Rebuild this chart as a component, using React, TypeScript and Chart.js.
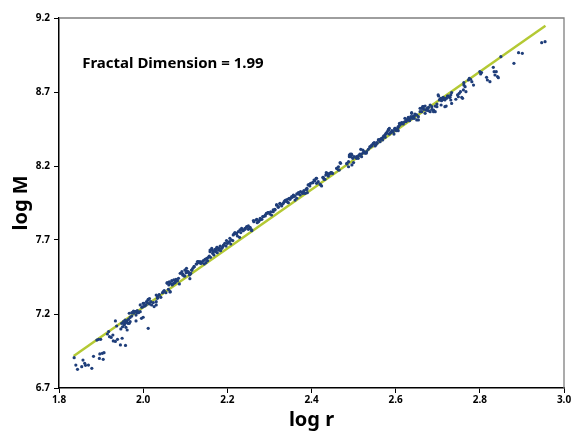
import React, { useEffect, useRef } from "react";
import { Chart, registerables } from "chart.js";

Chart.register(...registerables);

// log r values of the scatter points
const logR: number[] = [
  1.836, 1.840, 1.844, 1.854, 1.857, 1.861, 1.863, 1.870, 1.878, 1.882,
  1.890, 1.894, 1.899, 1.896, 1.897, 1.903, 1.905, 1.907, 1.915, 1.918,
  1.920, 1.924, 1.928, 1.929, 1.934, 1.934, 1.937, 1.939, 1.946, 1.958,
  1.950, 1.947, 1.951, 1.955, 1.958, 1.961, 1.964, 1.969, 1.962, 1.967,
  1.973, 1.977, 1.981, 1.986, 1.983, 2.000, 1.993, 1.997, 2.000, 2.004,
  2.008, 2.012, 2.015, 2.012, 2.031, 2.034, 2.031, 2.038, 2.048, 2.057,
  2.061, 2.064, 2.069, 2.073, 2.077, 2.081, 2.086, 2.094, 2.099, 2.103,
  2.108, 2.112, 2.116, 2.121, 2.127, 2.131, 2.111,
  2.131, 2.135, 2.139, 2.143, 2.147, 2.151, 2.155, 2.159, 2.163, 2.167,
  2.173, 2.176, 2.181, 2.184, 2.189, 2.192, 2.197, 2.200, 2.205, 2.208,
  2.213, 2.216, 2.221, 2.224, 2.229, 2.232, 2.236, 2.242, 2.246, 2.250,
  2.254, 2.258, 2.263, 2.268, 2.271, 2.276, 2.279, 2.284, 2.290, 2.294,
  2.297, 2.303, 2.309, 2.313, 2.317, 2.321, 2.325, 2.331, 2.335, 2.339,
  2.343, 2.347, 2.353, 2.357, 2.361, 2.365, 2.369, 2.374, 2.379, 2.382,
  2.387, 2.390, 2.395, 2.398, 2.403, 2.408, 2.412, 2.416,
  2.420, 2.424, 2.428, 2.432, 2.434, 2.438, 2.442, 2.446, 2.450, 2.460,
  2.464, 2.466, 2.469, 2.484, 2.488, 2.490, 2.493, 2.495, 2.498, 2.501,
  2.507, 2.511, 2.514, 2.517, 2.519, 2.523, 2.527, 2.531, 2.539, 2.543,
  2.547, 2.549, 2.553, 2.556, 2.559, 2.563, 2.567, 2.571, 2.575, 2.577,
  2.580, 2.583, 2.585, 2.588, 2.591, 2.594, 2.598, 2.601, 2.604, 2.606,
  2.610, 2.614, 2.618, 2.622, 2.625, 2.628, 2.630, 2.634, 2.638, 2.640,
  2.644, 2.646, 2.650, 2.654, 2.658, 2.662, 2.664, 2.667, 2.670, 2.672,
  2.675, 2.678, 2.682, 2.686, 2.690, 2.694, 2.698, 2.701,
  2.705, 2.709, 2.713, 2.717, 2.721, 2.725, 2.729, 2.731, 2.733, 2.708,
  2.717, 2.733, 2.743, 2.747, 2.749, 2.751, 2.754, 2.757, 2.759, 2.761,
  2.762, 2.765, 2.762, 2.767, 2.773, 2.775, 2.778, 2.781, 2.785, 2.800,
  2.802, 2.804, 2.816, 2.818, 2.824, 2.832, 2.834, 2.836, 2.839, 2.842,
  2.844, 2.850, 2.881, 2.892, 2.901, 2.947, 2.955,
  // second, closer reading of the dense part of the band
  1.949, 1.953, 1.957, 1.961, 1.965, 1.955, 1.959, 1.967, 1.969, 1.973,
  1.977, 1.981, 1.983, 1.986, 1.989, 1.993, 1.996, 2.000, 2.002, 2.007,
  2.010, 2.012, 2.015, 2.018, 2.020, 2.024, 2.026, 2.031, 2.034, 2.038,
  2.042, 2.046, 2.050, 2.054, 2.057, 2.062, 2.065, 2.068, 2.070, 2.073,
  2.076, 2.078, 2.081, 2.084, 2.064, 2.060, 2.088, 2.092, 2.094, 2.097,
  2.099, 2.102, 2.103, 2.107, 2.110, 2.113, 2.115, 2.118, 2.121, 2.126,
  2.129, 2.134, 2.137, 2.141, 2.145, 2.149, 2.153, 2.157, 2.160, 2.165,
  2.168, 2.173, 2.176,
  2.159, 2.163, 2.167, 2.171, 2.175, 2.179, 2.183, 2.187, 2.191, 2.194,
  2.198, 2.202, 2.206, 2.210, 2.214, 2.218, 2.222, 2.226, 2.230, 2.234,
  2.238, 2.242, 2.246, 2.250, 2.254, 2.258, 2.262, 2.270, 2.274, 2.278,
  2.282, 2.286, 2.290, 2.293, 2.297, 2.301, 2.305, 2.309, 2.313, 2.317,
  2.321, 2.325, 2.329, 2.333, 2.337, 2.341, 2.345, 2.349, 2.353, 2.357,
  2.361, 2.365, 2.369, 2.373, 2.377, 2.381, 2.385, 2.389, 2.392,
  2.389, 2.396, 2.403, 2.406, 2.411, 2.412, 2.422, 2.427, 2.430, 2.435,
  2.438, 2.440, 2.444, 2.448, 2.460, 2.464, 2.468, 2.484, 2.488, 2.492,
  2.496, 2.490, 2.496, 2.500, 2.507, 2.511, 2.515, 2.519, 2.522, 2.525,
  2.530, 2.535, 2.539, 2.543, 2.547, 2.551, 2.555, 2.559, 2.563, 2.567,
  2.569, 2.572, 2.575, 2.579, 2.583, 2.585, 2.588, 2.593, 2.596, 2.598,
  2.602, 2.606, 2.609,
  2.599, 2.602, 2.606, 2.610, 2.614, 2.618, 2.622, 2.626, 2.630, 2.633,
  2.636, 2.638, 2.640, 2.644, 2.646, 2.650, 2.654, 2.658, 2.662, 2.666,
  2.670, 2.674, 2.678, 2.682, 2.686, 2.690, 2.694, 2.698, 2.702, 2.704,
  2.707, 2.709, 2.713, 2.717, 2.720, 2.723, 2.728, 2.731,
];

// log M values of the scatter points (same order as logR)
const logM: number[] = [
  6.905, 6.855, 6.826, 6.844, 6.889, 6.867, 6.853, 6.855, 6.833, 6.914,
  7.024, 7.029, 7.029, 6.900, 6.930, 6.934, 6.894, 6.939, 7.065, 7.081,
  7.047, 7.042, 7.058, 7.018, 7.015, 7.153, 7.119, 7.029, 6.991, 6.988,
  7.036, 7.099, 7.114, 7.130, 7.144, 7.153, 7.137, 7.148, 7.092, 7.205,
  7.209, 7.220, 7.216, 7.209, 7.153, 7.178, 7.261, 7.245, 7.272, 7.254,
  7.283, 7.295, 7.304, 7.103, 7.328, 7.317, 7.261, 7.331, 7.351, 7.407,
  7.396, 7.349, 7.396, 7.407, 7.421, 7.425, 7.403, 7.470, 7.457, 7.491,
  7.479, 7.470, 7.497, 7.520, 7.538, 7.547, 7.439,
  7.554, 7.554, 7.547, 7.560, 7.569, 7.576, 7.583, 7.621, 7.632, 7.626,
  7.637, 7.650, 7.644, 7.628, 7.655, 7.666, 7.659, 7.677, 7.689, 7.673,
  7.696, 7.741, 7.745, 7.727, 7.718, 7.750, 7.768, 7.779, 7.790, 7.772,
  7.786, 7.763, 7.824, 7.835, 7.817, 7.831, 7.840, 7.858, 7.862, 7.880,
  7.885, 7.891, 7.903, 7.907, 7.937, 7.921, 7.948, 7.943, 7.959, 7.970,
  7.975, 7.982, 7.993, 8.004, 7.970, 8.011, 8.020, 8.027, 8.015, 8.033,
  8.042, 8.020, 8.076, 8.083, 8.087, 8.101, 8.117, 8.094,
  8.078, 8.065, 8.123, 8.110, 8.139, 8.150, 8.146, 8.155, 8.150, 8.184,
  8.195, 8.173, 8.218, 8.214, 8.195, 8.274, 8.263, 8.281, 8.252, 8.263,
  8.263, 8.252, 8.274, 8.313, 8.281, 8.290, 8.286, 8.297, 8.326, 8.335,
  8.349, 8.358, 8.342, 8.353, 8.376, 8.380, 8.387, 8.398, 8.410, 8.421,
  8.432, 8.448, 8.416, 8.425, 8.439, 8.432, 8.455, 8.443, 8.448, 8.439,
  8.477, 8.488, 8.493, 8.522, 8.500, 8.511, 8.529, 8.515, 8.556, 8.533,
  8.522, 8.545, 8.511, 8.533, 8.590, 8.567, 8.601, 8.583, 8.556, 8.578,
  8.590, 8.574, 8.567, 8.601, 8.578, 8.567, 8.601, 8.680,
  8.651, 8.657, 8.664, 8.646, 8.657, 8.673, 8.664, 8.680, 8.696, 8.612,
  8.601, 8.623, 8.651, 8.680, 8.668, 8.691, 8.702, 8.664, 8.657, 8.714,
  8.747, 8.736, 8.763, 8.702, 8.781, 8.792, 8.786, 8.770, 8.747, 8.837,
  8.822, 8.831, 8.799, 8.781, 8.770, 8.867, 8.837, 8.815, 8.837, 8.804,
  8.797, 8.939, 8.894, 8.966, 8.961, 9.033, 9.040,
  // second, closer reading of the dense part of the band
  7.137, 7.148, 7.159, 7.141, 7.164, 7.126, 7.110, 7.137, 7.177, 7.186,
  7.205, 7.216, 7.193, 7.223, 7.209, 7.216, 7.171, 7.250, 7.272, 7.261,
  7.277, 7.299, 7.268, 7.283, 7.261, 7.277, 7.250, 7.283, 7.306, 7.328,
  7.313, 7.344, 7.358, 7.344, 7.412, 7.418, 7.407, 7.425, 7.403, 7.430,
  7.412, 7.434, 7.425, 7.441, 7.351, 7.367, 7.475, 7.486, 7.464, 7.457,
  7.497, 7.479, 7.509, 7.486, 7.464, 7.475, 7.497, 7.509, 7.520, 7.538,
  7.554, 7.547, 7.542, 7.554, 7.538, 7.547, 7.560, 7.592, 7.583, 7.610,
  7.599, 7.621, 7.614,
  7.632, 7.644, 7.621, 7.637, 7.650, 7.632, 7.659, 7.644, 7.666, 7.678,
  7.696, 7.682, 7.711, 7.700, 7.734, 7.750, 7.741, 7.756, 7.768, 7.779,
  7.763, 7.772, 7.786, 7.795, 7.779, 7.768, 7.831, 7.840, 7.824, 7.846,
  7.840, 7.858, 7.869, 7.880, 7.885, 7.876, 7.869, 7.891, 7.903, 7.937,
  7.925, 7.943, 7.930, 7.948, 7.966, 7.959, 7.952, 7.975, 7.988, 7.993,
  7.997, 7.982, 8.011, 8.004, 8.020, 8.027, 8.015, 8.042, 8.072,
  8.049, 8.065, 8.087, 8.105, 8.117, 8.083, 8.072, 8.123, 8.110, 8.155,
  8.146, 8.132, 8.151, 8.155, 8.184, 8.173, 8.223, 8.218, 8.229, 8.281,
  8.274, 8.263, 8.207, 8.223, 8.252, 8.268, 8.281, 8.263, 8.308, 8.297,
  8.286, 8.313, 8.331, 8.342, 8.353, 8.335, 8.358, 8.376, 8.364, 8.387,
  8.376, 8.403, 8.394, 8.421, 8.443, 8.455, 8.425, 8.432, 8.416, 8.448,
  8.439, 8.466, 8.488,
  8.455, 8.448, 8.461, 8.477, 8.493, 8.484, 8.500, 8.511, 8.522, 8.506,
  8.533, 8.560, 8.522, 8.538, 8.551, 8.545, 8.511, 8.567, 8.590, 8.601,
  8.605, 8.578, 8.596, 8.612, 8.583, 8.567, 8.605, 8.619, 8.673, 8.646,
  8.657, 8.641, 8.650, 8.657, 8.605, 8.673, 8.664, 8.646,
];

// fitted line end points (slope = fractal dimension)
const fitR: number[] = [1.835, 2.956];
const fitM: number[] = [6.916, 9.148];

const xTicks: number[] = [1.8, 2.0, 2.2, 2.4, 2.6, 2.8, 3.0];
const yTicks: number[] = [6.7, 7.2, 7.7, 8.2, 8.7, 9.2];

const xTitle = "log r";
const yTitle = "log M";
const noteText = "Fractal Dimension = 1.99";
const noteR = 1.855;
const noteM = 8.86;

const FONT = '"Noto Sans", sans-serif';

export default function App() {
  const ref = useRef<HTMLCanvasElement>(null);

  useEffect(() => {
    const canvas = ref.current;
    if (!canvas) return;

    const framePlugin = {
      id: "frameAndNote",
      beforeDatasetsDraw(chart: any) {
        const { ctx, chartArea: a } = chart;
        ctx.save();
        ctx.strokeStyle = "#7f7f7f";
        ctx.lineWidth = 1.3;
        ctx.beginPath();
        ctx.moveTo(a.left, a.top);
        ctx.lineTo(a.right, a.top);
        ctx.lineTo(a.right, a.bottom);
        ctx.stroke();
        ctx.restore();
      },
      afterDraw(chart: any) {
        const { ctx } = chart;
        const x = chart.scales.x.getPixelForValue(noteR);
        const y = chart.scales.y.getPixelForValue(noteM);
        ctx.save();
        ctx.font = `bold 15px ${FONT}`;
        ctx.fillStyle = "#000";
        ctx.textBaseline = "alphabetic";
        ctx.textAlign = "left";
        ctx.fillText(noteText, x, y);
        ctx.restore();
      },
    };

    const chart = new Chart(canvas, {
      type: "scatter",
      data: {
        datasets: [
          {
            label: "data",
            data: logR.map((x, i) => ({ x, y: logM[i] })),
            backgroundColor: "#1f3e7a",
            borderColor: "#1f3e7a",
            borderWidth: 0,
            pointRadius: 1.6,
            order: 0,
          },
          {
            type: "line",
            label: "fit",
            data: fitR.map((x, i) => ({ x, y: fitM[i] })),
            borderColor: "#b4c934",
            borderWidth: 2.5,
            pointRadius: 0,
            fill: false,
            order: 1,
          } as any,
        ],
      },
      options: {
        responsive: false,
        animation: false,
        devicePixelRatio: 1,
        layout: { padding: { top: 18, right: 7, left: 0, bottom: 0 } },
        plugins: {
          legend: { display: false },
          tooltip: { enabled: false },
        },
        scales: {
          x: {
            type: "linear",
            min: 1.8,
            max: 3.0,
            afterBuildTicks: (s: any) => {
              s.ticks = xTicks.map((v) => ({ value: v }));
            },
            afterFit: (s: any) => {
              s.height = 44;
              s.paddingLeft = 0;
              s.paddingRight = 0;
            },
            ticks: {
              callback: (v: any) => Number(v).toFixed(1),
              font: { family: FONT, size: 10, weight: "bold" },
              color: "#000",
              padding: 1,
              maxRotation: 0,
              autoSkip: false,
            },
            grid: {
              display: true,
              drawOnChartArea: false,
              drawTicks: true,
              tickLength: 5,
              color: "#000",
              lineWidth: 1,
            },
            border: { display: true, color: "#000", width: 1.5 },
            title: {
              display: true,
              text: xTitle,
              font: { family: FONT, size: 20, weight: "bold" },
              color: "#000",
              padding: { top: 0, bottom: 0 },
            },
          },
          y: {
            type: "linear",
            min: 6.7,
            max: 9.2,
            afterBuildTicks: (s: any) => {
              s.ticks = yTicks.map((v) => ({ value: v }));
            },
            afterFit: (s: any) => {
              s.width = 59;
              s.paddingTop = 0;
              s.paddingBottom = 0;
            },
            ticks: {
              callback: (v: any) => Number(v).toFixed(1),
              font: { family: FONT, size: 10, weight: "bold" },
              color: "#000",
              padding: 4,
              autoSkip: false,
            },
            grid: {
              display: true,
              drawOnChartArea: false,
              drawTicks: true,
              tickLength: 5,
              color: "#000",
              lineWidth: 1,
            },
            border: { display: true, color: "#000", width: 1.5 },
            title: {
              display: true,
              text: yTitle,
              font: { family: FONT, size: 20, weight: "bold" },
              color: "#000",
              padding: { top: 9, bottom: 0 },
            },
          },
        },
      },
      plugins: [framePlugin],
    } as any);

    return () => chart.destroy();
  }, []);

  return (
    <div style={{ position: "absolute", left: 0, top: 0, width: 571, height: 432, background: "#fff" }}>
      <canvas ref={ref} width={571} height={432} style={{ display: "block" }} />
    </div>
  );
}
